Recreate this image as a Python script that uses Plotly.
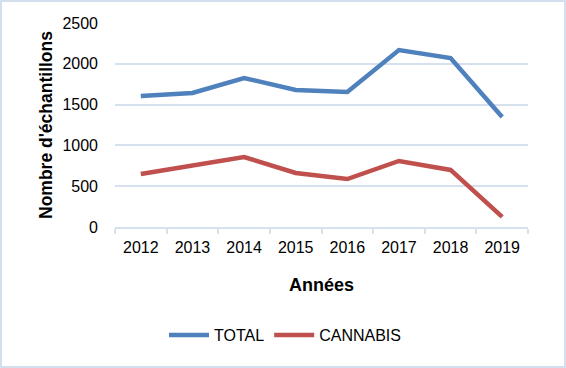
import plotly.graph_objects as go

years = ["2012", "2013", "2014", "2015", "2016", "2017", "2018", "2019"]
total = [1605, 1642, 1826, 1679, 1654, 2169, 2071, 1348]
cannabis = [650, 760, 858, 662, 588, 809, 699, 123]
y_ticks = [0, 500, 1000, 1500, 2000, 2500]

W, H = 566, 368
L, R, T, B = 115, 38, 23, 141
pw, ph = W - L - R, H - T - B

fig = go.Figure()
fig.add_trace(go.Scatter(x=years, y=total, name="TOTAL", mode="lines",
                         line=dict(color="#4F81BD", width=4.5)))
fig.add_trace(go.Scatter(x=years, y=cannabis, name="CANNABIS", mode="lines",
                         line=dict(color="#C0504D", width=4.5)))

font = "Liberation Sans, Arial, sans-serif"
grid = "#D6E1F0"

fig.update_layout(
    width=W, height=H,
    margin=dict(l=L, r=R, t=T, b=B, autoexpand=False),
    paper_bgcolor="white", plot_bgcolor="white",
    font=dict(family=font, size=16, color="#000000"),
    showlegend=True,
    legend=dict(orientation="h", x=(285 - L) / pw, xanchor="center", y=(227 - 335) / ph,
                yanchor="middle", font=dict(size=16), bgcolor="rgba(0,0,0,0)",
                itemwidth=40, tracegroupgap=0),
    xaxis=dict(type="category", range=[-0.5, 7.5], showgrid=False,
               showline=True, linecolor=grid, linewidth=1.5,
               ticks="outside", tickson="boundaries", ticklen=5, tickcolor=grid,
               tickwidth=1.5, ticklabelstandoff=5,
               tickfont=dict(size=16),
               title=dict(text="<b>Années</b>", font=dict(size=18), standoff=23)),
    yaxis=dict(range=[0, 2500], tickvals=y_ticks, showgrid=True, gridcolor=grid,
               gridwidth=1.5, zeroline=False, showline=False,
               ticks="", ticklabelstandoff=16, tickfont=dict(size=16),
               title=dict(text="<b>Nombre d'échantillons</b>", font=dict(size=17.5), standoff=5)),
    shapes=[dict(type="rect", xref="paper", yref="paper",
                 x0=(1 - L) / pw, x1=(W - 1 - L) / pw,
                 y0=(T + ph - (H - 1)) / ph, y1=(T + ph - 1) / ph,
                 line=dict(color="#D3DEEE", width=2), fillcolor="rgba(0,0,0,0)")],
)

fig.write_html("out.html", config={"displayModeBar": False},
               post_script="document.body.style.margin='0';document.body.style.overflow='hidden';")
